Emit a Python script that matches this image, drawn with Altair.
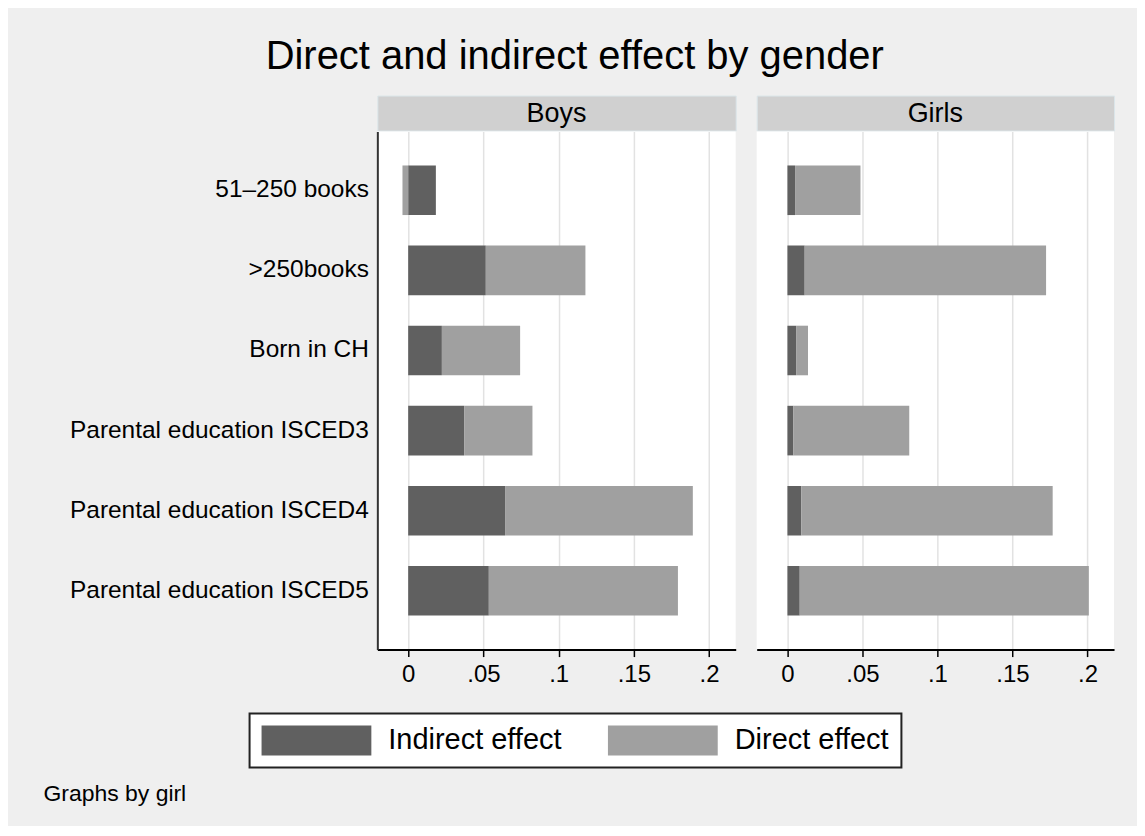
import altair as alt
import pandas as pd

FONT = "Liberation Sans"

categories = [
    "51–250 books",
    ">250books",
    "Born in CH",
    "Parental education ISCED3",
    "Parental education ISCED4",
    "Parental education ISCED5",
]
series = ["Indirect effect", "Direct effect"]
series_colors = ["#606060", "#a0a0a0"]

boys_indirect = [0.0184, 0.0516, 0.0224, 0.0372, 0.0644, 0.0536]
boys_direct = [-0.0038, 0.0662, 0.0520, 0.0454, 0.1248, 0.1257]
girls_indirect = [0.0051, 0.0115, 0.0058, 0.0040, 0.0093, 0.0082]
girls_direct = [0.0436, 0.1609, 0.0079, 0.0772, 0.1675, 0.1927]

tick_values = [0, 0.05, 0.1, 0.15, 0.2]
x_domain = [-0.0205, 0.2177]


def frame(indirect, direct):
    rows = []
    for i, c in enumerate(categories):
        rows.append({"category": c, "effect": series[0], "value": indirect[i], "ord": 0})
        rows.append({"category": c, "effect": series[1], "value": direct[i], "ord": 1})
    return pd.DataFrame(rows)


H = 519
STRIP = 35


def strip(label, width):
    return (
        alt.Chart(pd.DataFrame({"panel": [label]}))
        .mark_text(fontSize=27, font=FONT, color="#000000", baseline="middle", align="center")
        .encode(text="panel:N", x=alt.value(width / 2), y=alt.value(STRIP / 2 + 1))
        .properties(
            width=width,
            height=STRIP,
            view=alt.ViewBackground(fill="#d0d0d0", stroke="#dbe6ea", strokeWidth=1),
        )
    )


def bars(df, width, boys):
    xaxis_kw = dict(
        values=tick_values,
        labelExpr="datum.value == 0 ? '0' : replace(format(datum.value, '.2~f'), '0.', '.')",
        grid=True,
        gridColor="#e2e2e2",
        gridWidth=1.5,
        domainColor="#000000",
        domainWidth=2,
        tickColor="#000000",
        tickSize=7,
        tickWidth=1.5,
        labelFontSize=24,
        labelFont=FONT,
        labelColor="#000000",
        labelPadding=6,
    )
    if boys:
        xaxis = alt.Axis(
            title="Graphs by girl",
            titleX=-335,
            titleY=151,
            titleAlign="left",
            titleAnchor="start",
            titleBaseline="alphabetic",
            titleFontSize=23,
            titleFont=FONT,
            titleFontWeight="normal",
            titleColor="#000000",
            **xaxis_kw,
        )
        yaxis = alt.Axis(
            title=None,
            ticks=False,
            domain=True,
            domainColor="#333333",
            domainWidth=2,
            labelFontSize=24.5,
            labelFont=FONT,
            labelColor="#000000",
            labelPadding=9,
            labelLimit=500,
            grid=False,
        )
        ych = alt.Y(
            "category:N",
            sort=categories,
            scale=alt.Scale(paddingInner=0.381, paddingOuter=0.424),
            axis=yaxis,
        )
    else:
        xaxis = alt.Axis(title=None, **xaxis_kw)
        ych = alt.Y(
            "category:N",
            sort=categories,
            scale=alt.Scale(paddingInner=0.381, paddingOuter=0.424),
            axis=None,
        )
    return (
        alt.Chart(df)
        .mark_bar()
        .encode(
            x=alt.X(
                "value:Q",
                stack="zero",
                scale=alt.Scale(domain=x_domain, nice=False, zero=False),
                axis=xaxis,
            ),
            y=ych,
            color=alt.Color(
                "effect:N",
                scale=alt.Scale(domain=series, range=series_colors),
                legend=alt.Legend(title=None),
            ),
            order=alt.Order("ord:Q"),
        )
        .properties(
            width=width,
            height=H,
            view=alt.ViewBackground(fill="#ffffff", strokeWidth=0),
        )
    )


boys = alt.vconcat(strip("Boys", 359), bars(frame(boys_indirect, boys_direct), 359, True), spacing=0)
girls = alt.vconcat(strip("Girls", 358), bars(frame(girls_indirect, girls_direct), 358, False), spacing=0)

chart = (
    alt.hconcat(boys, girls, spacing=19)
    .properties(
        title=alt.TitleParams(
            "Direct and indirect effect by gender",
            fontSize=40,
            font=FONT,
            fontWeight="normal",
            color="#000000",
            anchor="middle",
            frame="bounds",
            offset=18,
            dx=-4,
        ),
        padding={"left": 35, "top": 28, "right": 22, "bottom": 20},
        background="#efefef",
    )
    .configure_legend(
        orient="none",
        legendX=-128,
        legendY=619,
        direction="horizontal",
        columns=2,
        fillColor="#ffffff",
        strokeColor="#222222",
        strokeWidth=2,
        padding=12,
        symbolType="M-1,-1H6.333V1H-1Z",
        symbolSize=900,
        symbolStrokeWidth=0,
        symbolOpacity=1,
        labelOffset=97,
        columnPadding=46,
        labelFontSize=29,
        labelFont=FONT,
        labelColor="#000000",
        labelLimit=400,
    )
)

chart.save("out.html", embed_options={"renderer": "svg", "actions": False})
